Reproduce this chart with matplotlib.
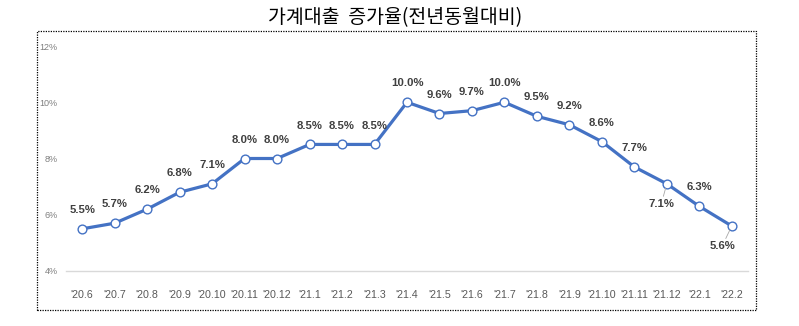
import matplotlib
matplotlib.use('Agg')
import matplotlib.pyplot as plt
from matplotlib.patches import Rectangle

months = ["'20.6", "'20.7", "'20.8", "'20.9", "'20.10", "'20.11", "'20.12",
          "'21.1", "'21.2", "'21.3", "'21.4", "'21.5", "'21.6", "'21.7",
          "'21.8", "'21.9", "'21.10", "'21.11", "'21.12", "'22.1", "'22.2"]
growth = [5.5, 5.7, 6.2, 6.8, 7.1, 8.0, 8.0, 8.5, 8.5, 8.5, 10.0,
          9.6, 9.7, 10.0, 9.5, 9.2, 8.6, 7.7, 7.1, 6.3, 5.6]
y_ticks = [4, 6, 8, 10, 12]
title = '가계대출  증가율(전년동월대비)'

sans = ['Liberation Sans', 'DejaVu Sans']
line_color = '#4472c4'

fig = plt.figure(figsize=(7.99, 3.26), dpi=100)
W, H = 799, 326

# dotted frame around the chart
fig.patches.append(Rectangle((37 / W, 1 - 310 / H), (756 - 37) / W, (310 - 31) / H,
                             transform=fig.transFigure, fill=False,
                             edgecolor='black', linewidth=0.9, linestyle=(0, (1, 1))))

fig.text(395 / W, 1 - 18 / H, title, ha='center', va='center', fontsize=14,
         family=['Noto Sans CJK KR', 'DejaVu Sans'], color='black')

ax = fig.add_axes([66 / W, 1 - 271 / H, (748 - 66) / W, (271 - 46) / H])
x = list(range(len(months)))
ax.plot(x, growth, color=line_color, linewidth=2.3, marker='o', markersize=6.3,
        markerfacecolor='white', markeredgecolor=line_color, markeredgewidth=1.0,
        zorder=3)

ax.set_xlim(-0.5, len(months) - 0.5)
ax.set_ylim(4, 12)
ax.set_yticks(y_ticks)
ax.set_yticklabels([f'{t}%' for t in y_ticks], fontsize=6.5, color='#7f7f7f', family=sans)
ax.set_xticks(x)
ax.set_xticklabels(months, fontsize=7.7, color='#595959', family=sans)
ax.tick_params(axis='both', length=0)
ax.tick_params(axis='x', pad=14)
ax.tick_params(axis='y', pad=6)
for side in ['top', 'right', 'left']:
    ax.spines[side].set_visible(False)
ax.spines['bottom'].set_color('#d9d9d9')
ax.spines['bottom'].set_linewidth(1.0)

# value labels: most above the point, two pushed below with a leader line
for i, v in enumerate(growth):
    dx, dy, va = 0, 10, 'bottom'
    if months[i] == "'21.12":
        dx, dy, va = -4, -11, 'top'
    elif months[i] == "'22.2":
        dx, dy, va = -7, -11, 'top'
    arrow = None
    if dy < 0:
        arrow = dict(arrowstyle='-', color='#a6a6a6', lw=0.6, shrinkA=0, shrinkB=3)
    ax.annotate(f'{v:.1f}%', (i, v), xytext=(dx, dy), textcoords='offset points',
                ha='center', va=va, fontsize=8.2, fontweight='bold',
                color='#404040', family=sans, arrowprops=arrow)

fig.savefig('out.png', dpi=100)
